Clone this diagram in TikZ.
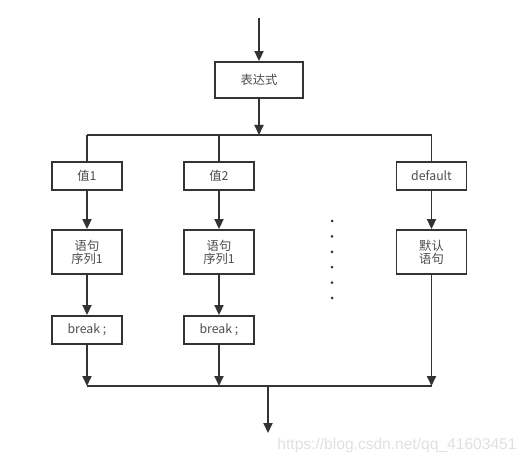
\documentclass[tikz,border=0pt]{standalone}
\usepackage{fontspec}
\setmainfont{Noto Sans CJK SC}
\newfontfamily\markfont{Liberation Sans}
\usepackage{tikz}
\usetikzlibrary{positioning, arrows.meta}

\definecolor{ink}{HTML}{333333}

\begin{document}
\begin{tikzpicture}[
  box/.style={draw=ink, line width=1.6pt, minimum width=2.1cm, align=center,
              font=\fontsize{10.5pt}{11.3pt}\selectfont, text=black!70, inner sep=2pt},
  line/.style={draw=ink, line width=1.6pt},
  flow/.style={line, -{Triangle[length=3mm, width=2.7mm]}},
]
  \useasboundingbox (0,0) rectangle (15.81,-13.92);

  % Expression
  \node[box, minimum width=2.64cm, minimum height=1.08cm] (expr) at (7.77,-2.4) {表达式};
  \coordinate (top) at (7.77,-0.54);
  \coordinate (split) at (7.77,-4.05);
  \draw[flow] (top) -- (expr);
  \draw[flow] (expr) -- (split);

  % Case values
  \node[box, minimum height=0.84cm] (v1) at (2.61,-5.28) {值1};
  \node[box, minimum height=0.84cm] (v2) at (6.57,-5.28) {值2};
  \node[box, minimum height=0.84cm] (vd) at (12.945,-5.28) {default};

  \draw[line] (v1 |- split) -- (vd |- split);
  \foreach \n in {v1,v2,vd} { \draw[line] (\n |- split) -- (\n); }

  % Statements
  \node[box, minimum height=1.32cm] (s1) at (2.61,-7.56) {语句\\序列1};
  \node[box, minimum height=1.32cm] (s2) at (6.57,-7.56) {语句\\序列1};
  \node[box, minimum height=1.32cm] (sd) at (12.945,-7.56) {默认\\语句};

  \draw[flow] (v1) -- (s1);
  \draw[flow] (v2) -- (s2);
  \draw[flow] (vd) -- (sd);

  % Break
  \node[box, minimum height=0.84cm] (b1) at (2.61,-9.9) {break ;};
  \node[box, minimum height=0.84cm] (b2) at (6.57,-9.9) {break ;};

  \draw[flow] (s1) -- (b1);
  \draw[flow] (s2) -- (b2);

  % Merge
  \coordinate (merge) at (8.04,-11.58);
  \coordinate (out) at (8.04,-12.99);
  \foreach \n in {b1,b2,sd} { \draw[flow] (\n) -- (\n |- merge); }
  \draw[line] (b1 |- merge) -- (sd |- merge);
  \draw[flow] (merge) -- (out);

  % Dots
  \foreach \i in {0,...,5} { \fill[ink] (9.96,-6.63-0.462*\i) circle (0.045); }

  % Watermark
  \node[font=\markfont\fontsize{13.3pt}{13.3pt}\selectfont, text=black!12, inner sep=0pt] (mark) at (11.91,-13.35) {https://blog.csdn.net/qq\_41603451};
\end{tikzpicture}
\end{document}
